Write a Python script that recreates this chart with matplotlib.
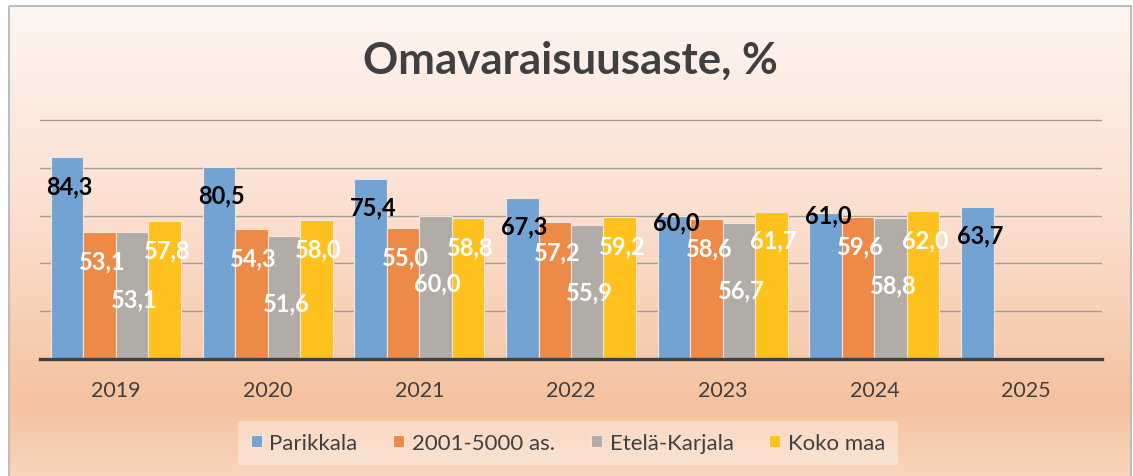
import numpy as np
import matplotlib.pyplot as plt
from matplotlib.colors import LinearSegmentedColormap
from matplotlib.patches import Rectangle

plt.rcParams['font.family'] = ['Lato', 'DejaVu Sans']

# Dati
vuodet = ["2019", "2020", "2021", "2022", "2023", "2024", "2025"]
parikkala = [84.3, 80.5, 75.4, 67.3, 60.0, 61.0, 63.7]
kunnat_2001_5000 = [53.1, 54.3, 55.0, 57.2, 58.6, 59.6, np.nan]
etela_karjala = [53.1, 51.6, 60.0, 55.9, 56.7, 58.8, np.nan]
koko_maa = [57.8, 58.0, 58.8, 59.2, 61.7, 62.0, np.nan]

sarjat = ["Parikkala", "2001-5000 as.", "Etelä-Karjala", "Koko maa"]
arvot = [parikkala, kunnat_2001_5000, etela_karjala, koko_maa]
colori = ["#72a3d2", "#ee8a47", "#b2aca7", "#fec11e"]
col_testo = ["black", "white", "white", "white"]
# quanto scende l'etichetta sotto la cima della barra (unita' dati)
abbassa = [11.8, 12.2, 28.0, 12.0]
abbassa_extra = {(0, 4): 2.5, (0, 5): 0.8}

W, H = 1133, 477
fig = plt.figure(figsize=(W / 100, H / 100), dpi=100)

# sfondo sfumato del riquadro
bg = fig.add_axes([0, 0, 1, 1], zorder=-1)
bg.set_xlim(0, W)
bg.set_ylim(H, 0)
bg.axis('off')
cmap = LinearSegmentedColormap.from_list(
    "pesca", [(0, "#fef5f0"), (0.45, "#fbdfcf"), (0.85, "#f5c29f"), (1, "#f9d5bd")])
grad = np.linspace(0, 1, 256).reshape(-1, 1)
bg.imshow(grad, cmap=cmap, aspect='auto', extent=(9, 1131, H, 7), interpolation='bilinear')
bg.add_patch(Rectangle((9, 7), 1122, H, fill=False, edgecolor="#bdbdbd", lw=1.5))

ax = fig.add_axes([40 / W, 1 - 360 / H, 1062 / W, 240 / H])
ax.set_facecolor('none')

x = np.arange(len(vuodet))
larg = 0.214
for i, (nome, val) in enumerate(zip(sarjat, arvot)):
    pos = x + (i - 1.5) * larg
    ax.bar(pos, val, width=larg, color=colori[i], edgecolor="#f7e4d8", linewidth=0.8,
           label=nome, zorder=3)
    for j, v in enumerate(val):
        if np.isnan(v):
            continue
        d = abbassa_extra.get((i, j), abbassa[i])
        ax.text(pos[j] + 0.015, v - d, f"{v:.1f}".replace('.', ','), ha='center', va='center',
                fontsize=17, fontweight='bold', color=col_testo[i], zorder=4)

ax.set_xlim(-0.5, 6.5)
ax.set_ylim(0, 100.4)
ax.set_yticks([20, 40, 60, 80, 100])
ax.set_yticklabels([])
ax.yaxis.grid(True, color="#a39d98", lw=1.0, zorder=1)
ax.tick_params(axis='y', length=0)
ax.set_xticks(x)
ax.set_xticklabels(vuodet, fontsize=15.5, color="#404040")
ax.tick_params(axis='x', length=0, pad=15)
for s in ['top', 'left', 'right']:
    ax.spines[s].set_visible(False)
ax.spines['bottom'].set_color("#404040")
ax.spines['bottom'].set_linewidth(2.4)
ax.spines['bottom'].set_zorder(5)

fig.text(570 / W, 1 - 74 / H, "Omavaraisuusaste, %", ha='center', va='baseline',
         fontsize=31.5, fontweight='bold', color="#404040")

leg = fig.legend(loc='center', bbox_to_anchor=(568 / W, 1 - 444 / H), ncol=4, fontsize=16,
                 frameon=True, fancybox=False, handlelength=0.5, handleheight=0.5,
                 handletextpad=0.35, columnspacing=1.6, borderpad=0.55)
leg.get_frame().set_facecolor("white")
leg.get_frame().set_alpha(0.35)
leg.get_frame().set_edgecolor("none")
for t in leg.get_texts():
    t.set_color("#404040")

plt.savefig("out.png", dpi=100)
